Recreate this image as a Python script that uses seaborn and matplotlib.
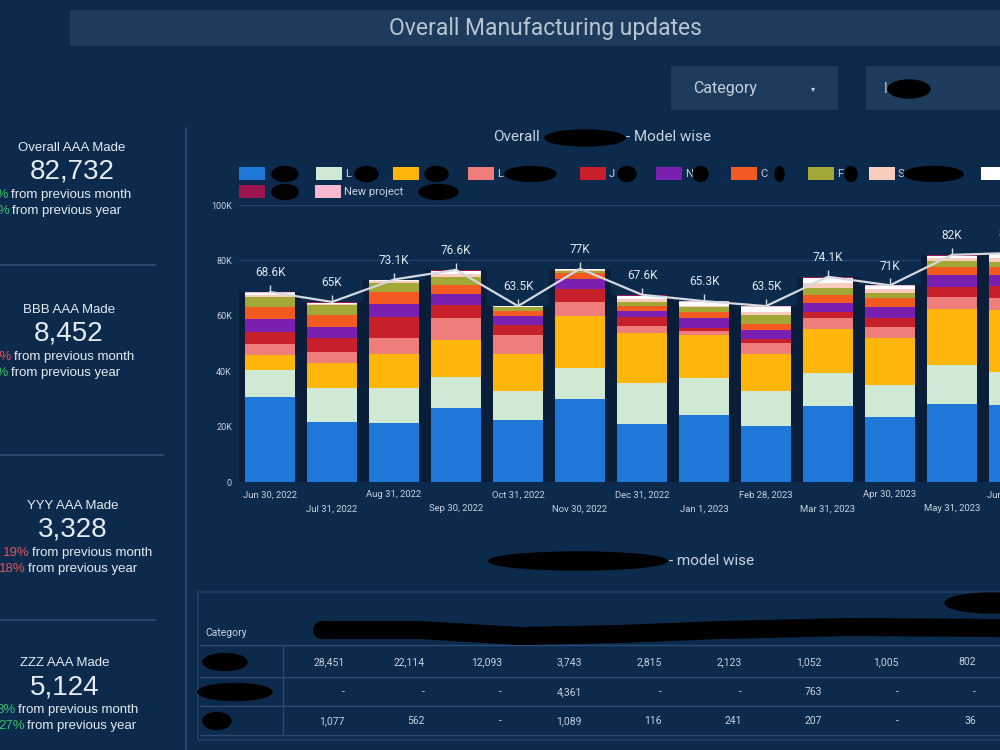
import numpy as np
import matplotlib
matplotlib.use("Agg")
import matplotlib.pyplot as plt
from matplotlib.patches import Rectangle, Ellipse
from matplotlib.lines import Line2D
from matplotlib.ticker import FuncFormatter
import seaborn as sns

# %% data (thousands of units per month end)
months = ["Jun 30, 2022", "Jul 31, 2022", "Aug 31, 2022", "Sep 30, 2022",
          "Oct 31, 2022", "Nov 30, 2022", "Dec 31, 2022", "Jan 1, 2023",
          "Feb 28, 2023", "Mar 31, 2023", "Apr 30, 2023", "May 31, 2023",
          "Jun 30, 2023"]
totals = [68.6, 65.0, 73.1, 76.6, 63.5, 77.0, 67.6, 65.3, 63.5, 74.1, 71.0, 82.0, 82.7]

model_a = [30.7, 21.8, 21.4, 26.6, 22.4, 29.9, 20.9, 24.2, 20.2, 27.4, 23.6, 28.2, 27.8]
model_l = [9.7, 12.0, 12.4, 11.4, 10.6, 11.2, 14.9, 13.2, 12.8, 12.1, 11.4, 14.0, 12.0]
model_c = [5.4, 9.0, 12.4, 13.3, 13.2, 18.8, 17.9, 15.7, 13.2, 15.6, 16.9, 20.1, 22.3]
model_lx = [4.0, 4.2, 5.7, 7.8, 6.9, 5.2, 2.6, 1.5, 3.9, 4.0, 4.2, 4.6, 4.5]
model_j = [4.5, 4.9, 7.8, 4.8, 3.6, 4.5, 3.2, 0.9, 1.4, 2.4, 3.0, 3.4, 4.0]
model_m = [4.5, 4.2, 4.6, 3.9, 3.2, 3.6, 2.3, 3.6, 3.4, 3.0, 4.2, 4.4, 4.0]
model_d = [4.5, 4.2, 4.4, 3.3, 1.7, 2.1, 1.7, 2.4, 2.1, 3.0, 3.0, 3.0, 3.0]
model_f = [3.6, 3.6, 3.3, 3.0, 1.4, 0.9, 1.6, 1.6, 3.3, 2.4, 2.1, 2.2, 2.0]
model_s = [0.7, 0.4, 0.4, 1.0, 0.2, 0.4, 0.8, 0.6, 1.2, 2.0, 1.2, 0.9, 1.2]
model_w = [0.6, 0.4, 0.4, 1.0, 0.2, 0.2, 1.3, 1.2, 1.6, 1.8, 1.0, 0.8, 1.5]
model_k = [0.2, 0.2, 0.2, 0.3, 0.05, 0.1, 0.2, 0.2, 0.2, 0.2, 0.2, 0.2, 0.2]
new_project = [0.2, 0.1, 0.1, 0.2, 0.05, 0.1, 0.2, 0.2, 0.2, 0.2, 0.2, 0.2, 0.2]

series = [model_a, model_l, model_c, model_lx, model_j, model_m, model_d,
          model_f, model_s, model_w, model_k, new_project]
colors = ["#1f78d8", "#cfe9d5", "#ffb60a", "#ee7d7b", "#c8202b", "#7a20b0",
          "#f25a22", "#a3a735", "#f8cdbf", "#ffffff", "#9c1551", "#f6b9d1"]
legend_initials = ["", "L", "", "L", "J", "N", "C", "F", "S", "", "", "New project"]

# KPI cards
kpi_titles = ["Overall AAA Made", "BBB AAA Made", "YYY AAA Made", "ZZZ AAA Made"]
kpi_values = ["82,732", "8,452", "3,328", "5,124"]
kpi_month = ["1%", "2%", "19%", "3%"]
kpi_year = ["21%", "5%", "18%", "27%"]
kpi_month_up = [True, False, False, True]
kpi_year_up = [True, True, False, True]

# table
table_row1 = ["28,451", "22,114", "12,093", "3,743", "2,815", "2,123", "1,052", "1,005", "802"]
table_row2 = ["-", "-", "-", "4,361", "-", "-", "763", "-", "-"]
table_row3 = ["1,077", "562", "-", "1,089", "116", "241", "207", "-", "36"]

# %% style
W, H = 1000, 750
bg = "#0c2a4c"
panel = "#1d3c5d"
txt = "#c9d2dc"
green = "#3cc06a"
red = "#e0535c"

sns.set_theme(style="dark")
plt.rcParams["font.family"] = ["Roboto", "DejaVu Sans"]

fig = plt.figure(figsize=(10, 7.5), dpi=100, facecolor=bg)


def fx(x):
    return x / W


def fy(y):
    return 1 - y / H


def blob(x0, x1, y, h=14):
    fig.add_artist(Ellipse(((x0 + x1) / 2 / W, fy(y)), (x1 - x0) / W, h / H,
                           color="black", zorder=10))


def box(x0, y0, x1, y1, color, ec="none"):
    fig.add_artist(Rectangle((fx(x0), fy(y1)), (x1 - x0) / W, (y1 - y0) / H,
                             facecolor=color, edgecolor=ec, lw=1, zorder=0))


# header banner and filters
box(70, 10, 1000, 46, panel)
fig.text(fx(545), fy(28), "Overall Manufacturing updates", ha="center", va="center",
         fontsize=16.5, color="#b9c4d0")
box(671, 66, 838, 110, panel)
fig.text(fx(693), fy(89), "Category", ha="left", va="center", fontsize=11.5, color="#c6cfd9")
fig.text(fx(813), fy(89), "▾", ha="center", va="center", fontsize=6, color="#c6cfd9",
         family="DejaVu Sans")
box(866, 66, 1010, 110, panel)
fig.text(fx(884), fy(89), "I", ha="left", va="center", fontsize=10, color="#c6cfd9")
blob(888, 930, 89, 18)

# %% KPI panel
title_y = [148, 310, 506, 663]
centers = [72, 69, 73, 65]
month_x = [9, 12, 30, 16]
year_x = [10, 9, 26, 25]
for i in range(4):
    y0 = title_y[i]
    fig.text(fx(centers[i]), fy(y0), kpi_titles[i], ha="center", va="center",
             fontsize=9.5, color="#e6ebf0", family="Liberation Sans")
    fig.text(fx(centers[i]), fy(y0 + 24), kpi_values[i], ha="center", va="center",
             fontsize=20, color="#e6ebf0", family="Liberation Sans")
    fig.text(fx(month_x[i]), fy(y0 + 47), kpi_month[i], ha="right", va="center", fontsize=9.5,
             color=green if kpi_month_up[i] else red, family="Liberation Sans")
    fig.text(fx(month_x[i] + 2), fy(y0 + 47), "from previous month", ha="left", va="center",
             fontsize=9.5, color="#e6ebf0", family="Liberation Sans")
    fig.text(fx(year_x[i]), fy(y0 + 63), kpi_year[i], ha="right", va="center", fontsize=9.5,
             color=green if kpi_year_up[i] else red, family="Liberation Sans")
    fig.text(fx(year_x[i] + 2), fy(y0 + 63), "from previous year", ha="left", va="center",
             fontsize=9.5, color="#e6ebf0", family="Liberation Sans")

for y, x1 in [(265, 155), (455, 163), (620, 155)]:
    fig.add_artist(Line2D([0, fx(x1)], [fy(y), fy(y)], color="#27486b", lw=1.5))
fig.add_artist(Line2D([fx(186), fx(186)], [fy(128), 0], color="#27486b", lw=1.5))

# %% stacked bar chart
ax = fig.add_axes([0.239, fy(482), 0.806, (482 - 205) / H])
ax.set_facecolor(bg)

cum = np.cumsum(np.array(series), axis=0)
# dark backing for the gaps between bars
sns.barplot(x=months, y=totals, color="#0a1d39", width=1.0, saturation=1,
            linewidth=0, ax=ax)
for k in range(len(series) - 1, -1, -1):
    sns.barplot(x=months, y=cum[k], color=colors[k], width=0.8, saturation=1,
                linewidth=0, ax=ax)

xs = np.arange(len(months))
sns.lineplot(x=xs, y=totals, color="#d3d9df", lw=1.6, ax=ax, zorder=5)
ax.vlines(xs, totals, np.array(totals) + 2.5, color="#d3d9df", lw=1, zorder=5)
for i, t in enumerate(totals):
    ax.text(i, t + 4.6, f"{t:g}K", ha="center", va="bottom", fontsize=8.5,
            color="#e3e8ed", zorder=6)

ax.set_ylim(0, 100)
ax.set_xlim(-0.5, 12.5)
ax.set_yticks([0, 20, 40, 60, 80, 100])
ax.yaxis.set_major_formatter(FuncFormatter(lambda v, p: "0" if v == 0 else f"{v:g}K"))
ax.set_xticks(xs)
ax.set_xticklabels([m if i % 2 == 0 else "\n" + m for i, m in enumerate(months)])
for i, lab in enumerate(ax.get_xticklabels()):
    lab.set_linespacing(1.7)
ax.tick_params(axis="x", labelsize=6.8, colors=txt, length=0, pad=6)
ax.tick_params(axis="y", labelsize=6.5, colors=txt, length=0, pad=5)
ax.grid(axis="y", color="#21426a", lw=0.8)
ax.grid(axis="x", visible=False)
ax.set_axisbelow(True)
ax.set_xlabel("")
ax.set_ylabel("")
for s in ax.spines.values():
    s.set_visible(False)
ax.axhline(0, color="#2d4d70", lw=1, zorder=0)

# chart title
fig.text(fx(540), fy(137), "Overall", ha="right", va="center", fontsize=11, color=txt)
blob(545, 625, 138, 16)
fig.text(fx(626), fy(137), "- Model wise", ha="left", va="center", fontsize=11, color=txt)

# legend
leg_x = [239, 316, 393, 468, 580, 656, 731, 808, 869, 981, 239, 315]
leg_y = [174] * 10 + [192] * 2
blob_span = [(272, 298), (355, 378), (425, 448), (505, 556), (618, 636), (693, 708),
             (775, 784), (845, 857), (904, 963), None, (272, 298), (419, 458)]
for i, c in enumerate(colors):
    fig.add_artist(Rectangle((fx(leg_x[i]), fy(leg_y[i] + 6)), 26 / W, 13 / H,
                             facecolor=c, edgecolor="none"))
    if legend_initials[i]:
        fig.text(fx(leg_x[i] + 29), fy(leg_y[i]), legend_initials[i], ha="left", va="center",
                 fontsize=8, color=txt)
    if blob_span[i]:
        blob(blob_span[i][0], blob_span[i][1], leg_y[i], 15)

# %% table
blob(489, 667, 561, 18)
fig.text(fx(669), fy(561), "- model wise", ha="left", va="center", fontsize=11, color=txt)
fig.add_artist(Rectangle((fx(198), fy(740)), (1010 - 198) / W, (740 - 592) / H,
                         facecolor="none", edgecolor="#1f3f63", lw=1.2))
fig.text(fx(205), fy(633), "Category", ha="left", va="center", fontsize=7.5, color=txt)
fig.add_artist(Line2D([fx(v) for v in [322, 420, 520, 620, 720, 850, 1000]],
                      [fy(v) for v in [630, 630, 636, 634, 630, 627, 628]],
                      color="black", lw=13, solid_capstyle="round", zorder=10))
blob(945, 1040, 603, 20)
for y in [645, 677, 706, 735]:
    fig.add_artist(Line2D([fx(200), fx(1000)], [fy(y), fy(y)], color="#2a4b70", lw=1))
fig.add_artist(Line2D([fx(283), fx(283)], [fy(645), fy(735)], color="#2a4b70", lw=1))

col_right = [345, 425, 502, 582, 662, 742, 822, 899, 976]
for row, y in [(table_row1, 662), (table_row2, 692), (table_row3, 721)]:
    for j, v in enumerate(row):
        fig.text(fx(col_right[j]), fy(y), v, ha="right", va="center", fontsize=7.5, color=txt)
blob(203, 247, 662, 17)
blob(198, 272, 692, 17)
blob(203, 231, 721, 17)

fig.savefig("out.png", dpi=100, facecolor=bg)
